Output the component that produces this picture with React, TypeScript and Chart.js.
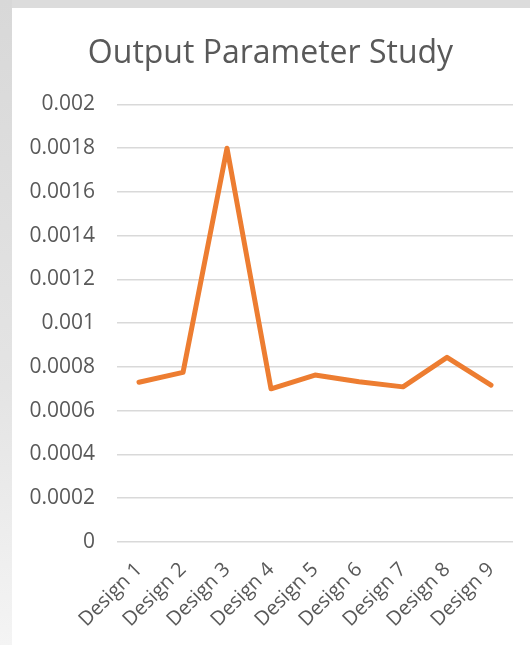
import React, { useEffect, useRef } from "react";
import { Chart, registerables } from "chart.js";

Chart.register(...registerables);

const categories = ["Design 1", "Design 2", "Design 3", "Design 4", "Design 5", "Design 6", "Design 7", "Design 8", "Design 9"];
const outputValues = [0.00073, 0.000775, 0.0018, 0.0007, 0.000763, 0.000732, 0.000709, 0.000844, 0.000717];
const yTickLabels = ["0", "0.0002", "0.0004", "0.0006", "0.0008", "0.001", "0.0012", "0.0014", "0.0016", "0.0018", "0.002"];
const chartTitle = "Output Parameter Study";

export default function App() {
  const ref = useRef<HTMLCanvasElement | null>(null);

  useEffect(() => {
    if (!ref.current) return;
    const chart = new Chart(ref.current, {
      type: "line",
      data: {
        labels: categories,
        datasets: [
          {
            data: outputValues,
            borderColor: "#ED7D31",
            backgroundColor: "#ED7D31",
            borderWidth: 5,
            borderCapStyle: "round",
            borderJoinStyle: "round",
            pointRadius: 0,
            tension: 0,
            fill: false,
          },
        ],
      },
      options: {
        responsive: false,
        animation: false,
        layout: { padding: { left: 16, right: 17, top: 27, bottom: 0 } },
        plugins: {
          legend: { display: false },
          tooltip: { enabled: false },
          title: {
            display: true,
            text: chartTitle,
            color: "#595959",
            font: { family: "'Open Sans'", size: 32, weight: "normal" },
            padding: { top: 0, bottom: 31 },
          },
        },
        scales: {
          x: {
            offset: true,
            grid: { display: false, drawTicks: false },
            border: { display: false },
            ticks: {
              color: "#595959",
              font: { family: "'Open Sans'", size: 20 },
              autoSkip: false,
              maxRotation: 45,
              minRotation: 45,
              padding: 16,
            },
            afterFit: (s: any) => {
              s.height = 103;
            },
          },
          y: {
            min: 0,
            max: 0.002,
            grid: { color: "#d9d9d9", lineWidth: 1.5, drawTicks: false },
            border: { display: false },
            ticks: {
              stepSize: 0.0002,
              color: "#595959",
              font: { family: "'Open Sans'", size: 21 },
              padding: 22,
              callback: (_v: any, i: number) => yTickLabels[i],
            },
            afterFit: (s: any) => {
              s.width = 89;
            },
          },
        },
      },
    });
    return () => chart.destroy();
  }, []);

  return (
    <div style={{ position: "absolute", left: 0, top: 0, width: 530, height: 645, background: "#dcdcdc", overflow: "hidden" }}>
      <div
        style={{
          position: "absolute",
          left: 0,
          top: 0,
          width: 12,
          height: 645,
          background: "linear-gradient(#d8d8d8, #e4e4e4 60%, #f4f4f4)",
        }}
      />
      <div style={{ position: "absolute", left: 12, top: 8, width: 518, height: 637, background: "#ffffff" }}>
        <canvas ref={ref} width={518} height={637} style={{ display: "block" }} />
      </div>
    </div>
  );
}
